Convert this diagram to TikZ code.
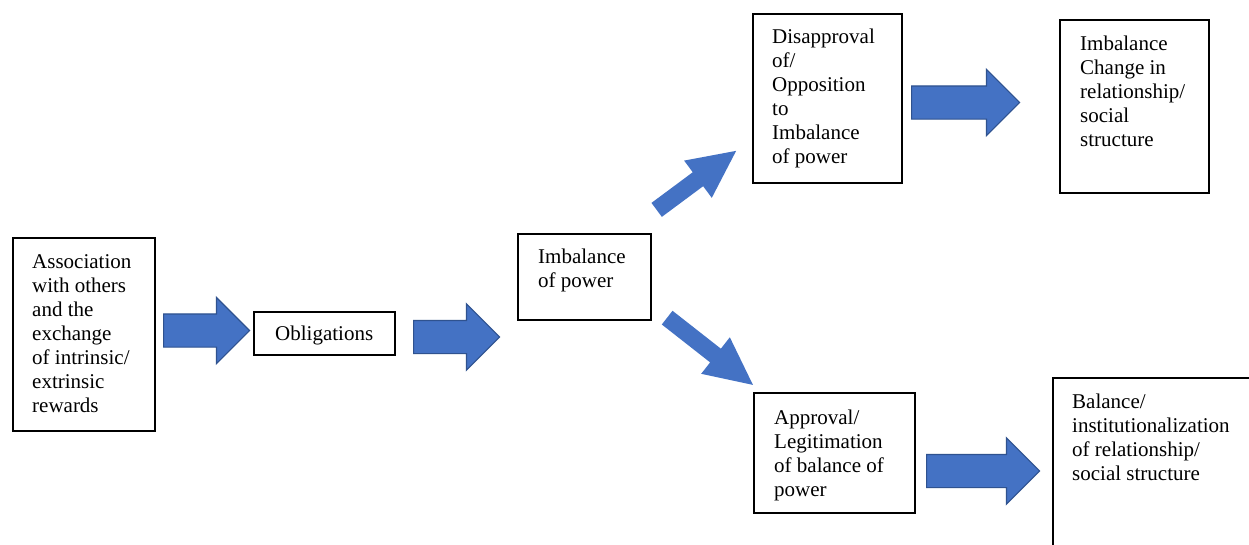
\documentclass[tikz,border=0pt]{standalone}
\usepackage{fontspec}
\setmainfont{Liberation Serif}
\usetikzlibrary{shapes.arrows}
\definecolor{arrowfill}{HTML}{4472C4}
\definecolor{arrowline}{HTML}{2F528F}
\begin{document}
\begin{tikzpicture}[x=1pt,y=-1pt,
  box/.style={draw=black,line width=1.5pt,inner sep=0pt,anchor=north west},
  label/.style={align=left,inner sep=0pt,anchor=base west,font=\fontsize{21}{24}\selectfont},
  harrow/.style={single arrow,fill=arrowfill,draw=arrowline,line width=1.2pt,inner xsep=0pt,inner ysep=16pt,
    single arrow head extend=16.5pt,single arrow tip angle=90,anchor=tail},
  darrow/.style={single arrow,fill=arrowfill,draw=none,inner xsep=0pt,inner ysep=8.5pt,
    single arrow head extend=14.5pt,single arrow tip angle=52,anchor=tail}
]
\useasboundingbox (0,0) rectangle (1249,544);
\clip (0,0) rectangle (1249,544);
\fill[white] (0,0) rectangle (1249,544);

% boxes
\node[box,minimum width=142pt,minimum height=193pt] (b1) at (12,237) {};
\node[box,minimum width=141pt,minimum height=43pt] (b2) at (253,311) {};
\node[box,minimum width=133pt,minimum height=86pt] (b3) at (517,233) {};
\node[box,minimum width=149pt,minimum height=169pt] (b4) at (752,13) {};
\node[box,minimum width=149pt,minimum height=173pt] (b5) at (1059,19) {};
\node[box,minimum width=161pt,minimum height=120pt] (b6) at (753,392) {};
\node[box,minimum width=230pt,minimum height=200pt] (b7) at (1052,377) {};

% texts (base anchor = baseline of the last line)
\node[label] (t1) at (32,412) {Association\\with others\\and the\\exchange\\of intrinsic/\\extrinsic\\rewards};
\node[label] (t2) at (275,340) {Obligations};
\node[label] (t3) at (538,287) {Imbalance\\of power};
\node[label] (t4) at (772,163) {Disapproval\\of/\\Opposition\\to\\Imbalance\\of power};
\node[label] (t5) at (1080,146) {Imbalance\\Change in\\relationship/\\social\\structure};
\node[label] (t6) at (774,496) {Approval/\\Legitimation\\of balance of\\power};
\node[label] (t7) at (1072,480) {Balance/\\institutionalization\\of relationship/\\social structure};

% block arrows
\node[harrow,minimum height=86pt] (a1) at (163,330.5) {};
\node[harrow,minimum height=86pt] (a2) at (413,337) {};
\node[harrow,minimum height=108pt] (a4) at (911,102.5) {};
\node[harrow,minimum height=113pt] (a6) at (926,471) {};
\node[darrow,minimum height=99pt,rotate=36.6] (a3) at (656.5,210) {};
\node[darrow,minimum height=109pt,rotate=-38.1] (a5) at (667,317.5) {};
\end{tikzpicture}
\end{document}
